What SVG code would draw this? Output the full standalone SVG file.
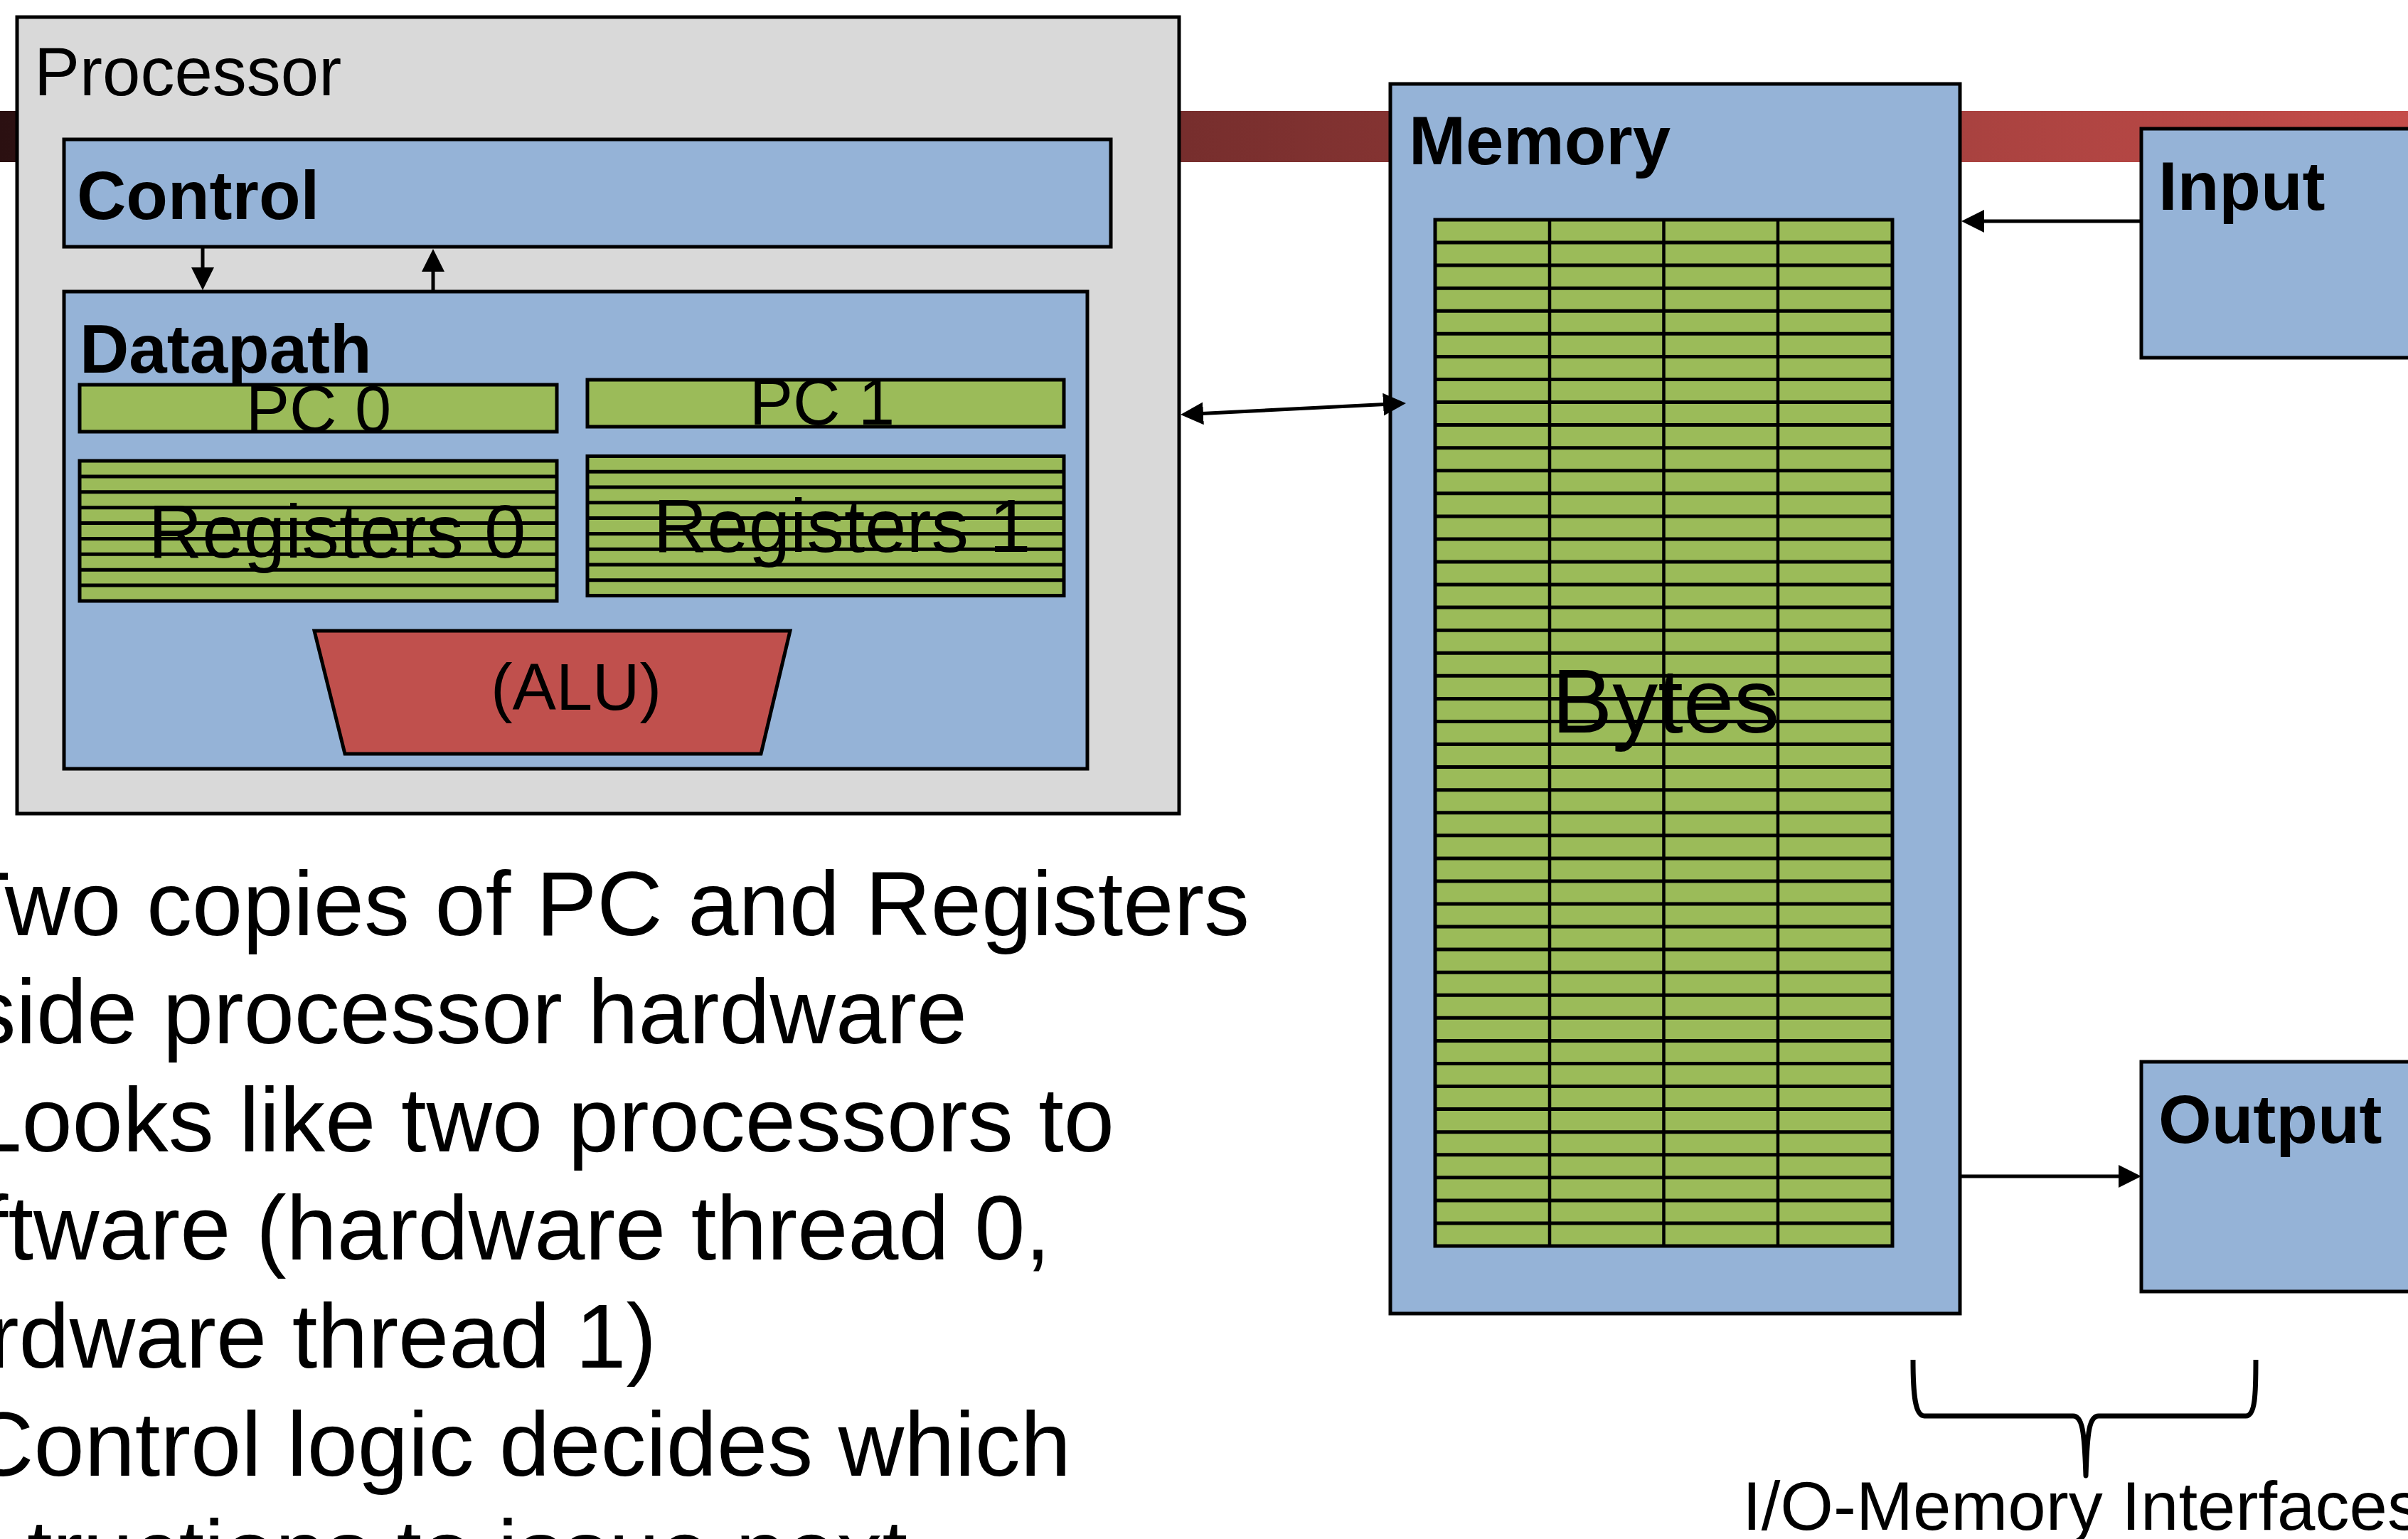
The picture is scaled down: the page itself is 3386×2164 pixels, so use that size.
<svg xmlns="http://www.w3.org/2000/svg" width="3386" height="2164" viewBox="0 0 3386 2164">
<defs>
<linearGradient id="barGrad" x1="0" y1="0" x2="3386" y2="0" gradientUnits="userSpaceOnUse">
<stop offset="0" stop-color="#2b1011"/>
<stop offset="1" stop-color="#c54d4a"/>
</linearGradient>
<marker id="ah" markerUnits="userSpaceOnUse" markerWidth="32" markerHeight="32" viewBox="0 0 32 32" refX="22" refY="16" orient="auto-start-reverse">
<path d="M0,0L32,16L0,32z" fill="#000"/>
</marker>
</defs>
<style>
.t{font-family:"Liberation Sans",Arial,Helvetica,sans-serif;fill:#000}
.b{font-weight:bold}
.box{stroke:#000;stroke-width:5}
.gray{fill:#d9d9d9}
.blue{fill:#95b3d7}
.green{fill:#9bbb59}
.red{fill:#c0504d}
.grid{fill:none;stroke:#000;stroke-width:5}
.vgrid{fill:none;stroke:#000;stroke-width:4.5}
.conn{stroke:#000;stroke-width:5;fill:none}
</style>
<rect width="3386" height="2164" fill="#fff"/>
<g id="bus">
<rect x="0" y="156" width="3386" height="72" fill="url(#barGrad)"/>
</g>
<g id="processor">
<rect class="box gray" x="24" y="24" width="1634" height="1120"/>
<text class="t" x="48" y="134" font-size="96">Processor</text>
</g>
<g id="control">
<rect class="box blue" x="90" y="196" width="1472" height="151"/>
<text class="t b" x="108" y="308" font-size="96">Control</text>
</g>
<g id="datapath">
<rect class="box blue" x="90" y="410" width="1439" height="671"/>
<text class="t b" x="112" y="524" font-size="96">Datapath</text>
</g>
<g id="pc0">
<rect class="box green" x="112" y="541" width="671" height="66"/>
<text class="t" x="448" y="607" font-size="92" text-anchor="middle">PC 0</text>
</g>
<g id="pc1">
<rect class="box green" x="826" y="534" width="670" height="66"/>
<text class="t" x="1156" y="597" font-size="92" text-anchor="middle">PC 1</text>
</g>
<g id="registers0">
<rect class="box green" x="112" y="648" width="671" height="197"/>
<path class="grid" stroke-width="4.5" d="M112,669.9H783M112,691.8H783M112,713.7H783M112,735.6H783M112,757.4H783M112,779.3H783M112,801.2H783M112,823.1H783"/>
<text class="t" x="474" y="784" font-size="105" text-anchor="middle">Registers 0</text>
</g>
<g id="registers1">
<rect class="box green" x="826" y="641.5" width="670" height="196"/>
<path class="grid" stroke-width="4.5" d="M826,663.3H1496M826,685.1H1496M826,706.8H1496M826,728.6H1496M826,750.4H1496M826,772.2H1496M826,794H1496M826,815.7H1496"/>
<text class="t" x="1184" y="776" font-size="105" text-anchor="middle">Registers 1</text>
</g>
<g id="alu">
<polygon class="box red" points="442,887 1111,887 1070,1060 485,1060"/>
<text class="t" x="810" y="998" font-size="92" text-anchor="middle">(ALU)</text>
</g>
<g id="memory">
<rect class="box blue" x="1955" y="118" width="801" height="1729"/>
<text class="t b" x="1981" y="231" font-size="96">Memory</text>
</g>
<g id="bytes">
<rect class="green" x="2018" y="309" width="643" height="1443"/>
<path class="grid" d="M2018,341.1H2661M2018,373.1H2661M2018,405.2H2661M2018,437.3H2661M2018,469.3H2661M2018,501.4H2661M2018,533.5H2661M2018,565.5H2661M2018,597.6H2661M2018,629.7H2661M2018,661.7H2661M2018,693.8H2661M2018,725.9H2661M2018,757.9H2661M2018,790H2661M2018,822.1H2661M2018,854.1H2661M2018,886.2H2661M2018,918.3H2661M2018,950.3H2661M2018,982.4H2661M2018,1014.5H2661M2018,1046.5H2661M2018,1078.6H2661M2018,1110.7H2661M2018,1142.7H2661M2018,1174.8H2661M2018,1206.9H2661M2018,1238.9H2661M2018,1271H2661M2018,1303.1H2661M2018,1335.1H2661M2018,1367.2H2661M2018,1399.3H2661M2018,1431.3H2661M2018,1463.4H2661M2018,1495.5H2661M2018,1527.5H2661M2018,1559.6H2661M2018,1591.7H2661M2018,1623.7H2661M2018,1655.8H2661M2018,1687.9H2661M2018,1719.9H2661"/>
<path class="vgrid" d="M2179,309V1752M2339.5,309V1752M2500,309V1752"/>
<rect class="box" fill="none" x="2018" y="309" width="643" height="1443"/>
<text class="t" x="2342" y="1030" font-size="128" text-anchor="middle">Bytes</text>
</g>
<g id="input">
<rect class="box blue" x="3011" y="181" width="420" height="322"/>
<text class="t b" x="3035" y="295" font-size="96">Input</text>
</g>
<g id="output">
<rect class="box blue" x="3011" y="1493" width="420" height="323"/>
<text class="t b" x="3035" y="1607" font-size="96">Output</text>
</g>
<g id="connectors">
<line class="conn" x1="285" y1="347" x2="285" y2="398" marker-end="url(#ah)"/>
<line class="conn" x1="609" y1="410" x2="609" y2="360" marker-end="url(#ah)"/>
<line class="conn" x1="1670" y1="582.5" x2="1967" y2="567.5" marker-start="url(#ah)" marker-end="url(#ah)"/>
<line class="conn" x1="3011" y1="311" x2="2768" y2="311" marker-end="url(#ah)"/>
<line class="conn" x1="2756" y1="1654" x2="3001" y2="1654" marker-end="url(#ah)"/>
</g>
<g id="brace">
<path d="M2690,1912 C2690,1962 2693,1991 2706,1991 L2915,1991 C2928,1991 2931,2012 2933,2075 C2935,2012 2938,1991 2951,1991 L3158,1991 C3171,1991 3172,1962 3172,1912" fill="none" stroke="#000" stroke-width="7" stroke-linejoin="round"/>
<text class="t" x="2450" y="2151" font-size="96">I/O-Memory Interfaces</text>
</g>
<g id="bullets" class="t" font-size="128" text-anchor="end">
<text x="1757" y="1315">Two copies of PC and Registers</text>
<text x="1360" y="1467">side processor hardware</text>
<text x="1567" y="1619">Looks like two processors to</text>
<text x="1477" y="1771">ftware (hardware thread 0,</text>
<text x="923" y="1923">rdware thread 1)</text>
<text x="1506" y="2075">Control logic decides which</text>
<text x="1276" y="2227">tructions to issue next</text>
</g>
</svg>
